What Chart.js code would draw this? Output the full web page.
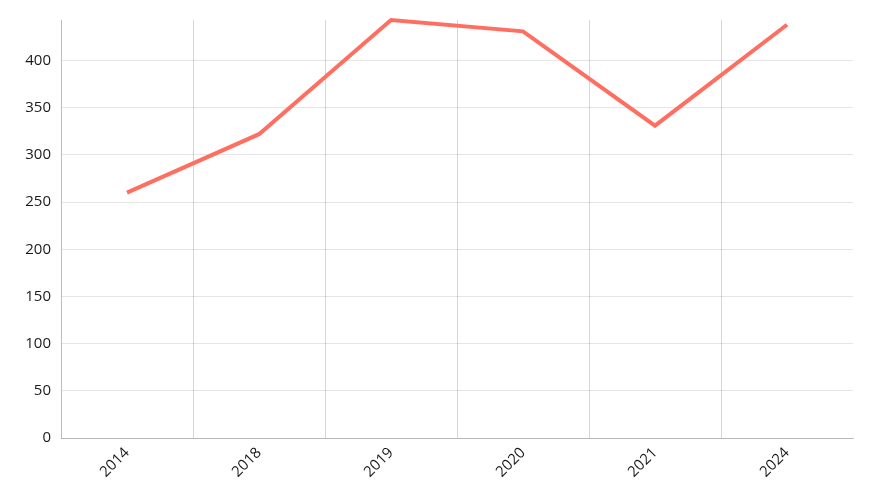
<!DOCTYPE html>
<html>
<head>
<meta charset="utf-8">
<script src="https://cdn.jsdelivr.net/npm/chart.js@4"></script>
<style>
  html, body { margin: 0; padding: 0; background: #fff; }
  #wrap { width: 873px; height: 500px; }
</style>
</head>
<body>
<div id="wrap"><canvas id="chart"></canvas></div>
<script>
const years = ["2014", "2018", "2019", "2020", "2021", "2024"];
const values = [260, 322, 443, 431, 331, 438];

const chartCanvas = document.getElementById("chart");

new Chart(chartCanvas, {
  type: "line",
  data: {
    labels: years,
    datasets: [
      {
        data: values,
        borderColor: "#ff6f61",
        borderWidth: 4,
        pointRadius: 0,
        pointHoverRadius: 0,
        tension: 0,
        clip: false
      }
    ]
  },
  options: {
    responsive: true,
    maintainAspectRatio: false,
    animation: false,
    layout: { padding: { top: 20, right: 20, left: 0, bottom: 0 } },
    plugins: {
      legend: { display: false },
      tooltip: { enabled: false }
    },
    scales: {
      x: {
        offset: true,
        afterFit: scale => { scale.height = 62; },
        grid: {
          offset: true,
          drawTicks: false,
          // the extra offset line on the right edge has no tick context
          color: ctx => (ctx.type === "tick" ? "rgba(0,0,0,0.16)" : "rgba(0,0,0,0)")
        },
        border: { color: "rgba(0,0,0,0.2)" },
        ticks: {
          maxRotation: 45,
          minRotation: 45,
          padding: 6,
          color: "#1a1a1a",
          font: { family: "Open Sans", size: 15 }
        }
      },
      y: {
        beginAtZero: true,
        max: Math.max(...values),
        afterFit: scale => { scale.width = 61; },
        grid: {
          drawTicks: false,
          color: "rgba(0,0,0,0.1)"
        },
        border: { display: true, color: "rgba(0,0,0,0.12)" },
        ticks: {
          stepSize: 50,
          padding: 10,
          color: "#1a1a1a",
          font: { family: "Open Sans", size: 15 },
          callback: v => (v % 50 === 0 ? v : null)
        }
      }
    }
  }
});
</script>
</body>
</html>
